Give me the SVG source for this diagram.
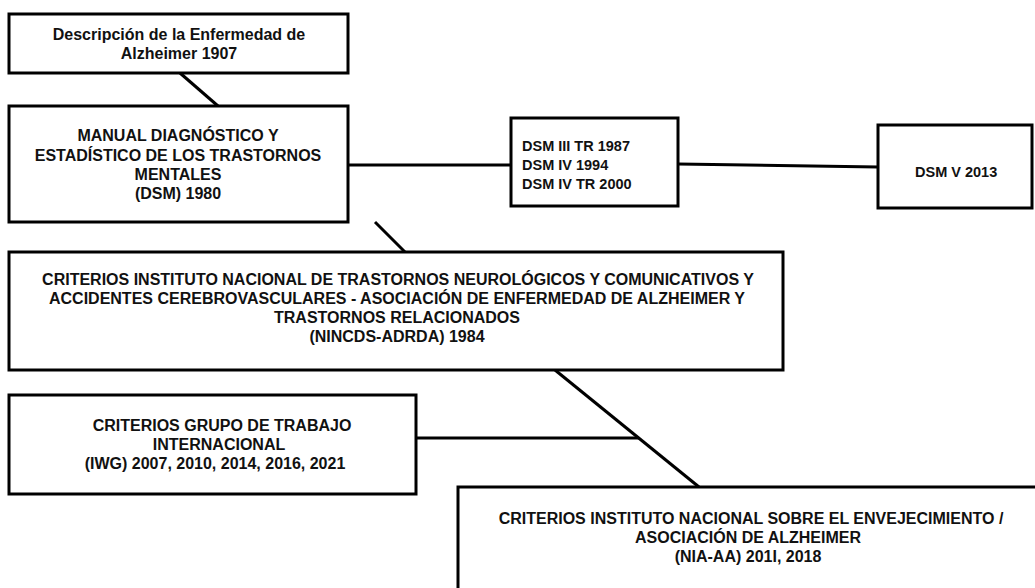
<svg xmlns="http://www.w3.org/2000/svg" width="1035" height="588" viewBox="0 0 1035 588">
<style>
.box{fill:#fff;stroke:#000;stroke-width:3}
.ln{stroke:#000;stroke-width:3;fill:none}
text{font-family:"Liberation Sans",Arial,sans-serif;font-size:16px;font-weight:bold;fill:#111}
.c{text-anchor:middle}
.s{font-size:14.5px}
</style>
<rect width="1035" height="588" fill="#fff"/>
<g id="connectors">
<line class="ln" x1="180" y1="73" x2="218" y2="106"/>
<line class="ln" x1="348" y1="165" x2="511" y2="165"/>
<line class="ln" x1="678" y1="164" x2="878" y2="167"/>
<line class="ln" x1="375" y1="222" x2="405" y2="252"/>
<line class="ln" x1="555" y1="370" x2="699" y2="487"/>
<line class="ln" x1="416" y1="438" x2="639" y2="438"/>
</g>
<g id="n1">
<rect class="box" x="9" y="14" width="339" height="59"/>
<text class="c" x="179" y="40">Descripción de la Enfermedad de</text>
<text class="c" x="179" y="59">Alzheimer 1907</text>
</g>
<g id="n2">
<rect class="box" x="9" y="106" width="339" height="116"/>
<text class="c" x="178" y="141">MANUAL DIAGNÓSTICO Y</text>
<text class="c" x="178" y="161">ESTADÍSTICO DE LOS TRASTORNOS</text>
<text class="c" x="178" y="180">MENTALES</text>
<text class="c" x="178" y="199">(DSM) 1980</text>
</g>
<g id="n3">
<rect class="box" x="511" y="118" width="167" height="88"/>
<text class="s" x="522" y="151">DSM III TR 1987</text>
<text class="s" x="522" y="170">DSM IV 1994</text>
<text class="s" x="522" y="189">DSM IV TR 2000</text>
</g>
<g id="n4">
<rect class="box" x="878" y="125" width="154" height="83"/>
<text class="s" x="915" y="177">DSM V 2013</text>
</g>
<g id="n5">
<rect class="box" x="9" y="252" width="774" height="118"/>
<text class="c" x="398" y="285">CRITERIOS INSTITUTO NACIONAL DE TRASTORNOS NEUROLÓGICOS Y COMUNICATIVOS Y</text>
<text class="c" x="397" y="304">ACCIDENTES CEREBROVASCULARES - ASOCIACIÓN DE ENFERMEDAD DE ALZHEIMER Y</text>
<text class="c" x="397" y="323">TRASTORNOS RELACIONADOS</text>
<text class="c" x="397" y="342">(NINCDS-ADRDA) 1984</text>
</g>
<g id="n6">
<rect class="box" x="9" y="395" width="407" height="99"/>
<text class="c" x="222" y="431">CRITERIOS GRUPO DE TRABAJO</text>
<text class="c" x="219" y="450">INTERNACIONAL</text>
<text class="c" x="215" y="469">(IWG) 2007, 2010, 2014, 2016, 2021</text>
</g>
<g id="n7">
<rect class="box" x="458" y="487" width="600" height="120"/>
<text class="c" x="751" y="524">CRITERIOS INSTITUTO NACIONAL SOBRE EL ENVEJECIMIENTO /</text>
<text class="c" x="748" y="543">ASOCIACIÓN DE ALZHEIMER</text>
<text class="c" x="748" y="562">(NIA-AA) 201I, 2018</text>
</g>
</svg>
